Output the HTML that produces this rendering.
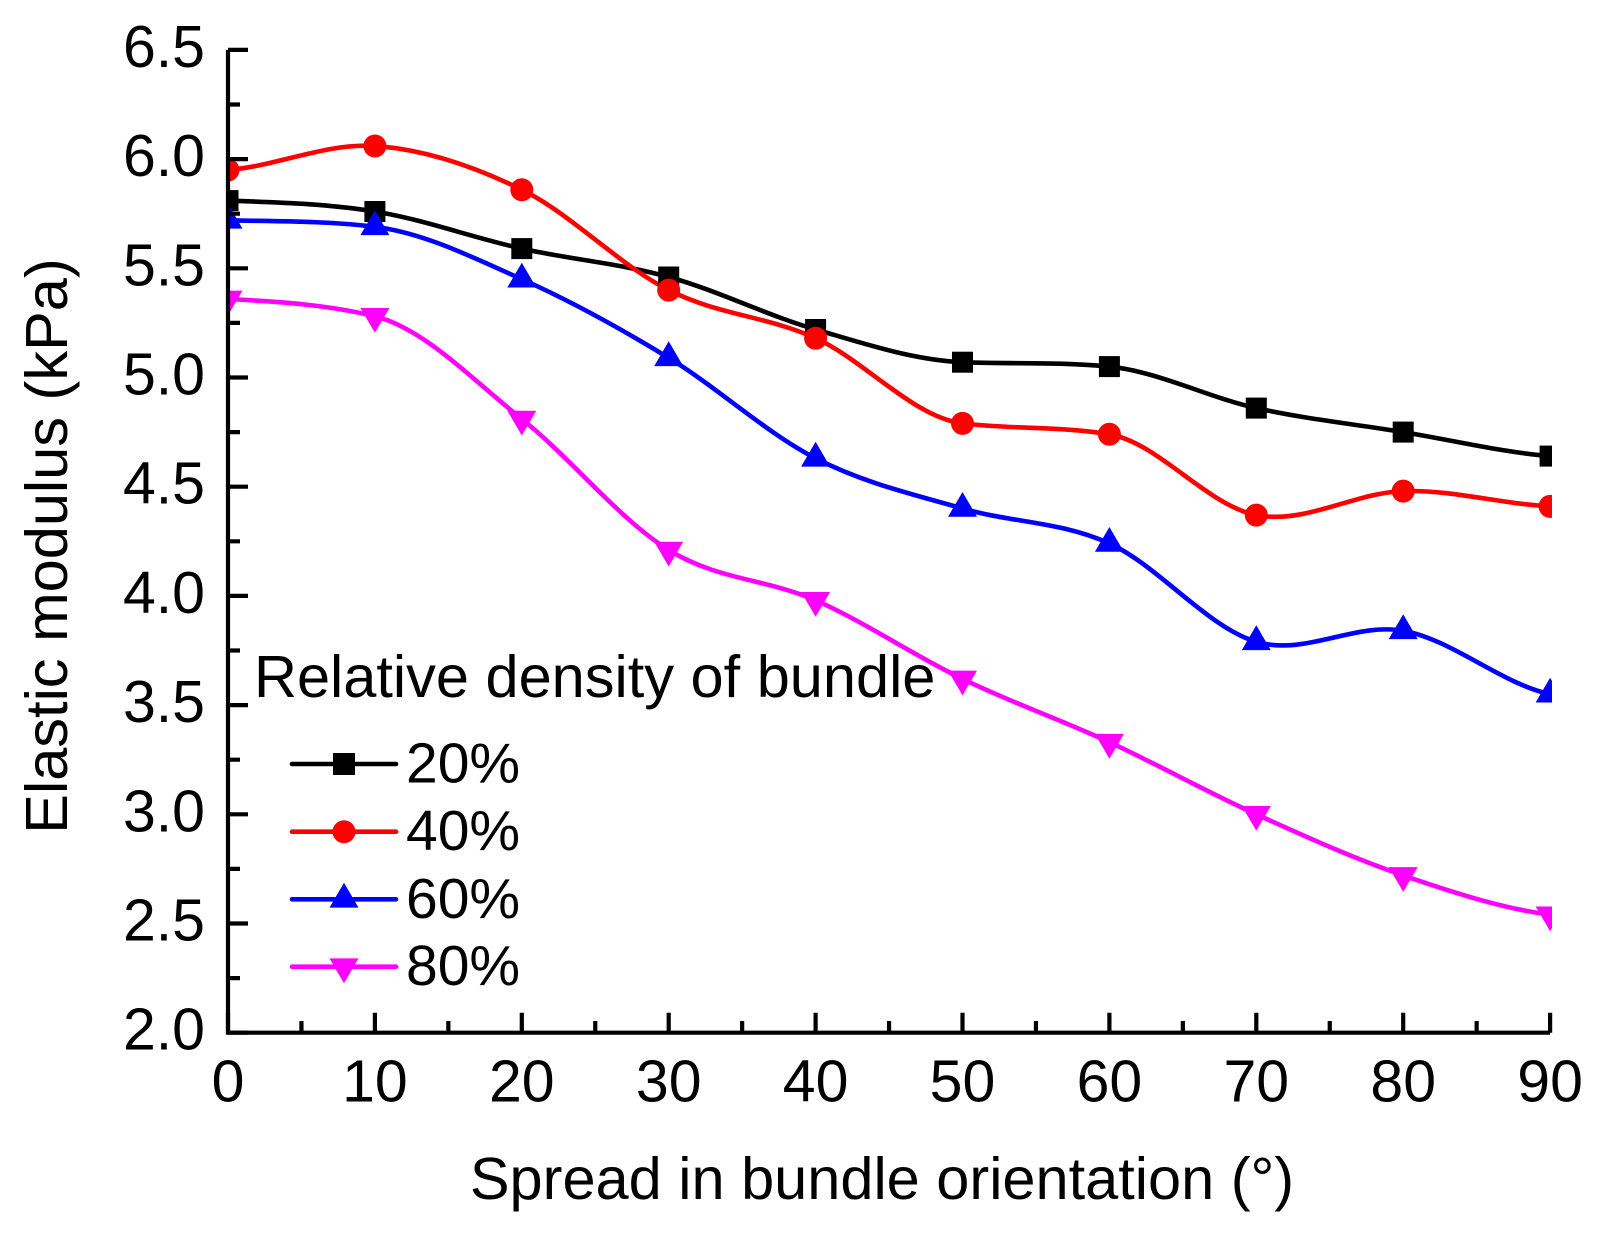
<!DOCTYPE html>
<html>
<head>
<meta charset="utf-8">
<style>
  html, body { margin:0; padding:0; background:#fff; }
  svg { display:block; }
  text { font-family: "Liberation Sans", Arial, sans-serif; fill:#000; }
</style>
</head>
<body>
<svg width="1604" height="1234" viewBox="0 0 1604 1234" xmlns="http://www.w3.org/2000/svg">
  <rect x="0" y="0" width="1604" height="1234" fill="#fff"/>
  <defs>
    <clipPath id="plot">
      <rect x="226" y="0" width="1326" height="1040"/>
    </clipPath>
  </defs>

  <!-- series lines -->
  <g clip-path="url(#plot)" fill="none" stroke-width="4.6" stroke-linejoin="round" stroke-linecap="round">
    <path stroke="#000000" d="M228,200.6 C277,202.4 325.9,203.5 374.9,211.5 C423.9,219.5 472.8,237.7 521.8,248.6 C570.8,259.5 619.7,263.5 668.7,277 C717.7,290.5 766.6,315.3 815.6,329.5 C864.6,343.7 913.5,360.2 962.5,362.2 C1011.5,364.2 1060.4,361.6 1109.4,366.6 C1158.4,371.6 1207.3,397.2 1256.3,408.1 C1305.3,419 1354.2,424.1 1403.2,432.1 C1452.2,440.1 1501.1,452.1 1550.1,456.1"/>
    <path stroke="#ff0000" d="M228,170 C277,166 325.9,142.7 374.9,146 C423.9,149.3 472.8,165.7 521.8,189.7 C570.8,213.7 619.7,265.4 668.7,290.1 C717.7,314.9 766.6,316 815.6,338.2 C864.6,360.4 913.5,417.4 962.5,423.4 C1011.5,429.4 1060.4,426 1109.4,434.3 C1158.4,442.6 1207.3,505.6 1256.3,515.1 C1305.3,524.6 1354.2,492.6 1403.2,491.1 C1452.2,489.7 1501.1,503.9 1550.1,506.4"/>
    <path stroke="#0000ff" d="M228,220.3 C277,221.4 325.9,220.8 374.9,226.8 C423.9,232.8 472.8,257.4 521.8,279.2 C570.8,301 619.7,328 668.7,357.8 C717.7,387.7 766.6,433.2 815.6,458.3 C864.6,483.4 913.5,494.3 962.5,508.5 C1011.5,522.7 1060.4,521.3 1109.4,543.5 C1158.4,565.7 1207.3,627.3 1256.3,641.8 C1305.3,656.4 1354.2,622.1 1403.2,630.8 C1452.2,639.5 1501.1,683.6 1550.1,694.2"/>
    <path stroke="#ff00ff" d="M228,298.9 C277,301.8 325.9,304.3 374.9,316.3 C423.9,328.3 472.8,380.1 521.8,419 C570.8,458 619.7,519.8 668.7,550 C717.7,580.2 766.6,578.8 815.6,600.3 C864.6,621.8 913.5,655.3 962.5,678.9 C1011.5,702.6 1060.4,719.6 1109.4,742.2 C1158.4,764.8 1207.3,792.1 1256.3,814.3 C1305.3,836.5 1354.2,858.7 1403.2,875.4 C1452.2,892.2 1501.1,908.2 1550.1,914.8"/>
  </g>

  <!-- markers -->
  <g clip-path="url(#plot)">
    <g fill="#000000">
      <rect x="217.5" y="190.1" width="21" height="21"/>
      <rect x="364.4" y="201" width="21" height="21"/>
      <rect x="511.3" y="238.1" width="21" height="21"/>
      <rect x="658.2" y="266.5" width="21" height="21"/>
      <rect x="805.1" y="319" width="21" height="21"/>
      <rect x="952" y="351.7" width="21" height="21"/>
      <rect x="1098.9" y="356.1" width="21" height="21"/>
      <rect x="1245.8" y="397.6" width="21" height="21"/>
      <rect x="1392.7" y="421.6" width="21" height="21"/>
      <rect x="1539.6" y="445.6" width="21" height="21"/>
    </g>
    <g fill="#ff0000">
      <circle cx="228" cy="170" r="11.5"/>
      <circle cx="374.9" cy="146" r="11.5"/>
      <circle cx="521.8" cy="189.7" r="11.5"/>
      <circle cx="668.7" cy="290.1" r="11.5"/>
      <circle cx="815.6" cy="338.2" r="11.5"/>
      <circle cx="962.5" cy="423.4" r="11.5"/>
      <circle cx="1109.4" cy="434.3" r="11.5"/>
      <circle cx="1256.3" cy="515.1" r="11.5"/>
      <circle cx="1403.2" cy="491.1" r="11.5"/>
      <circle cx="1550.1" cy="506.4" r="11.5"/>
    </g>
    <g fill="#0000ff">
      <path transform="translate(228,220.3)" d="M0,-16.5 L14.5,8.3 L-14.5,8.3 Z"/>
      <path transform="translate(374.9,226.8)" d="M0,-16.5 L14.5,8.3 L-14.5,8.3 Z"/>
      <path transform="translate(521.8,279.2)" d="M0,-16.5 L14.5,8.3 L-14.5,8.3 Z"/>
      <path transform="translate(668.7,357.8)" d="M0,-16.5 L14.5,8.3 L-14.5,8.3 Z"/>
      <path transform="translate(815.6,458.3)" d="M0,-16.5 L14.5,8.3 L-14.5,8.3 Z"/>
      <path transform="translate(962.5,508.5)" d="M0,-16.5 L14.5,8.3 L-14.5,8.3 Z"/>
      <path transform="translate(1109.4,543.5)" d="M0,-16.5 L14.5,8.3 L-14.5,8.3 Z"/>
      <path transform="translate(1256.3,641.8)" d="M0,-16.5 L14.5,8.3 L-14.5,8.3 Z"/>
      <path transform="translate(1403.2,630.8)" d="M0,-16.5 L14.5,8.3 L-14.5,8.3 Z"/>
      <path transform="translate(1550.1,694.2)" d="M0,-16.5 L14.5,8.3 L-14.5,8.3 Z"/>
    </g>
    <g fill="#ff00ff">
      <path transform="translate(228,298.9)" d="M0,16.5 L14.5,-8.3 L-14.5,-8.3 Z"/>
      <path transform="translate(374.9,316.3)" d="M0,16.5 L14.5,-8.3 L-14.5,-8.3 Z"/>
      <path transform="translate(521.8,419)" d="M0,16.5 L14.5,-8.3 L-14.5,-8.3 Z"/>
      <path transform="translate(668.7,550)" d="M0,16.5 L14.5,-8.3 L-14.5,-8.3 Z"/>
      <path transform="translate(815.6,600.3)" d="M0,16.5 L14.5,-8.3 L-14.5,-8.3 Z"/>
      <path transform="translate(962.5,678.9)" d="M0,16.5 L14.5,-8.3 L-14.5,-8.3 Z"/>
      <path transform="translate(1109.4,742.2)" d="M0,16.5 L14.5,-8.3 L-14.5,-8.3 Z"/>
      <path transform="translate(1256.3,814.3)" d="M0,16.5 L14.5,-8.3 L-14.5,-8.3 Z"/>
      <path transform="translate(1403.2,875.4)" d="M0,16.5 L14.5,-8.3 L-14.5,-8.3 Z"/>
      <path transform="translate(1550.1,914.8)" d="M0,16.5 L14.5,-8.3 L-14.5,-8.3 Z"/>
    </g>
  </g>

  <!-- axes -->
  <g stroke="#000" stroke-width="4.2" fill="none">
    <path d="M228,49.9 V1032.7 H1550.1" stroke-linejoin="miter"/>
    <path d="M228,1032.7 H248 M228,923.5 H248 M228,814.3 H248 M228,705.1 H248 M228,595.9 H248 M228,486.7 H248 M228,377.5 H248 M228,268.3 H248 M228,159.1 H248 M228,49.9 H248"/>
    <path d="M228,978.1 H240 M228,868.9 H240 M228,759.7 H240 M228,650.5 H240 M228,541.3 H240 M228,432.1 H240 M228,322.9 H240 M228,213.7 H240 M228,104.5 H240"/>
    <path d="M228,1032.7 V1012.7 M374.9,1032.7 V1012.7 M521.8,1032.7 V1012.7 M668.7,1032.7 V1012.7 M815.6,1032.7 V1012.7 M962.5,1032.7 V1012.7 M1109.4,1032.7 V1012.7 M1256.3,1032.7 V1012.7 M1403.2,1032.7 V1012.7 M1550.1,1032.7 V1012.7"/>
    <path d="M301.45,1032.7 V1021 M448.35,1032.7 V1021 M595.25,1032.7 V1021 M742.15,1032.7 V1021 M889.05,1032.7 V1021 M1035.95,1032.7 V1021 M1182.85,1032.7 V1021 M1329.75,1032.7 V1021 M1476.65,1032.7 V1021"/>
  </g>

  <!-- y tick labels -->
  <g font-size="59" text-anchor="end">
    <text x="205" y="1049.7">2.0</text>
    <text x="205" y="940.5">2.5</text>
    <text x="205" y="831.3">3.0</text>
    <text x="205" y="722.1">3.5</text>
    <text x="205" y="612.9">4.0</text>
    <text x="205" y="503.7">4.5</text>
    <text x="205" y="394.5">5.0</text>
    <text x="205" y="285.3">5.5</text>
    <text x="205" y="176.1">6.0</text>
    <text x="205" y="66.9">6.5</text>
  </g>

  <!-- x tick labels -->
  <g font-size="59" text-anchor="middle">
    <text x="228" y="1101.5">0</text>
    <text x="374.9" y="1101.5">10</text>
    <text x="521.8" y="1101.5">20</text>
    <text x="668.7" y="1101.5">30</text>
    <text x="815.6" y="1101.5">40</text>
    <text x="962.5" y="1101.5">50</text>
    <text x="1109.4" y="1101.5">60</text>
    <text x="1256.3" y="1101.5">70</text>
    <text x="1403.2" y="1101.5">80</text>
    <text x="1550.1" y="1101.5">90</text>
  </g>

  <!-- axis titles -->
  <text x="882" y="1199" font-size="59.5" text-anchor="middle">Spread in bundle orientation (°)</text>
  <text transform="translate(67,546) rotate(-90)" font-size="59.5" text-anchor="middle">Elastic modulus (kPa)</text>

  <!-- legend -->
  <text x="254" y="697" font-size="59.5">Relative density of bundle</text>
  <g stroke-width="4.6" stroke-linecap="round">
    <line x1="292" y1="764" x2="396" y2="764" stroke="#000000"/>
    <line x1="292" y1="831.7" x2="396" y2="831.7" stroke="#ff0000"/>
    <line x1="292" y1="899.3" x2="396" y2="899.3" stroke="#0000ff"/>
    <line x1="292" y1="966.7" x2="396" y2="966.7" stroke="#ff00ff"/>
  </g>
  <rect x="333" y="753" width="22" height="22" fill="#000000"/>
  <circle cx="344" cy="831.7" r="11.5" fill="#ff0000"/>
  <path transform="translate(344,899.3)" d="M0,-16.5 L14.5,8.3 L-14.5,8.3 Z" fill="#0000ff"/>
  <path transform="translate(344,966.7)" d="M0,16.5 L14.5,-8.3 L-14.5,-8.3 Z" fill="#ff00ff"/>
  <g font-size="57">
    <text x="406" y="782.5">20%</text>
    <text x="406" y="850.2">40%</text>
    <text x="406" y="917.8">60%</text>
    <text x="406" y="985.2">80%</text>
  </g>
</svg>
</body>
</html>
